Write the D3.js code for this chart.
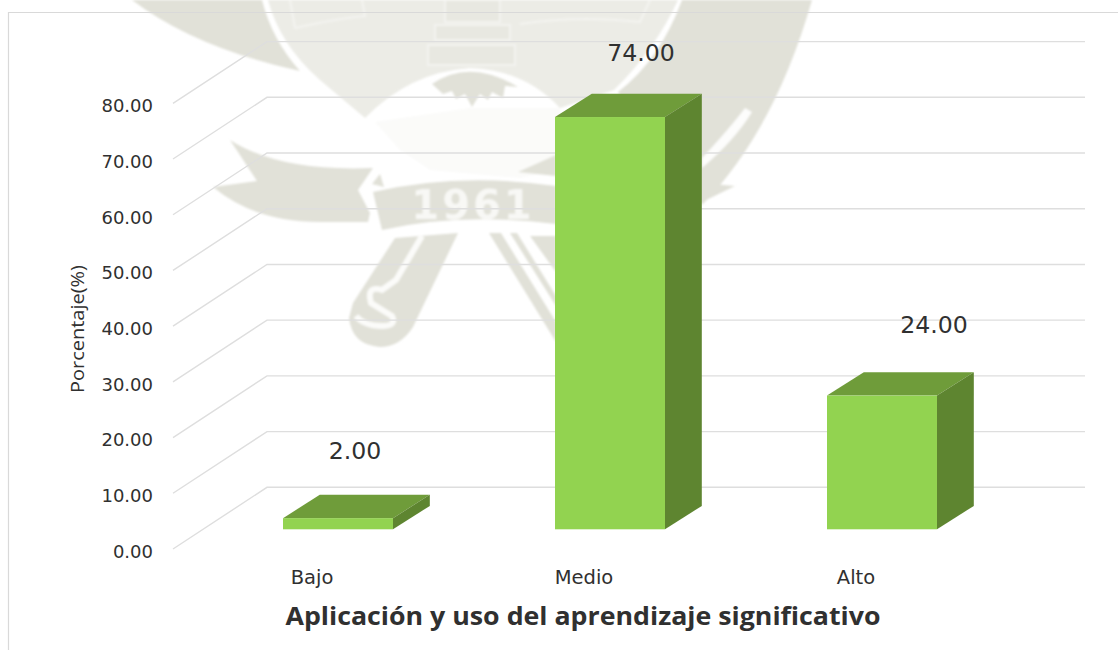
<!DOCTYPE html>
<html>
<head>
<meta charset="utf-8">
<script src="https://d3js.org/d3.v7.min.js"></script>
<style>
  html, body { margin: 0; padding: 0; background: #fff; }
  text { fill: #303030; }
  .tick text { font-family: "DejaVu Sans", sans-serif; }
</style>
</head>
<body>
<div id="chart"></div>
<script>
var categories = ["Bajo", "Medio", "Alto"];
var porcentajes = [2, 74, 24];
var yTicks = [0, 10, 20, 30, 40, 50, 60, 70, 80];
var yLabel = "Porcentaje(%)";
var xLabel = "Aplicación y uso del aprendizaje significativo";

var width = 1118, height = 650;

// depth of the 3d walls and of the bars
var wall = {dx: 94, dy: -61.7};
var depth = {dx: 36.8, dy: -23.4, base: -19.7};

var y = d3.scaleLinear().domain([0, 80]).range([549, 103.3]);
var x = d3.scaleBand().domain(categories).range([283, 937]).paddingInner(0.5956).paddingOuter(0);

var svg = d3.select("#chart").append("svg")
  .attr("width", width)
  .attr("height", height)
  .style("display", "block");

// the crest in the reference is a soft scan
svg.append("defs").append("filter")
  .attr("id", "soft")
  .append("feGaussianBlur")
  .attr("stdDeviation", 0.8);

drawWatermark(svg.append("g").attr("class", "watermark").attr("filter", "url(#soft)"));

// frame
svg.append("path")
  .attr("d", "M8.5,650V12.5H1118")
  .attr("fill", "none")
  .attr("stroke", "#d9d9d9")
  .attr("stroke-width", 1.2);

// gridlines: floor diagonal + back wall line
svg.append("g").attr("class", "grid")
  .selectAll("path")
  .data(yTicks)
  .enter().append("path")
  .attr("d", function(d) {
    return "M173," + y(d) + "L" + (173 + wall.dx) + "," + (y(d) + wall.dy) + "H1085";
  })
  .attr("fill", "none")
  .attr("stroke", "#dedede")
  .attr("stroke-width", 1.4);

var yAxis = d3.axisLeft(y)
  .tickValues(yTicks)
  .tickSize(0)
  .tickPadding(20)
  .tickFormat(d3.format(".2f"));

var gy = svg.append("g").attr("transform", "translate(173,0)").call(yAxis);
gy.select(".domain").remove();
gy.selectAll("text").attr("dy", "0.46em").style("font-size", "18px");

var bars = svg.selectAll(".bar")
  .data(categories)
  .enter().append("g")
  .attr("class", "bar");

function frontTop(i) { return y(porcentajes[i]) + depth.base; }

// top
bars.append("path")
  .attr("fill", "#6f9c3a")
  .attr("d", function(d, i) {
    var x0 = x(d), x1 = x0 + x.bandwidth(), t = frontTop(i);
    return "M" + x0 + "," + t + "L" + (x0 + depth.dx) + "," + (t + depth.dy) +
      "H" + (x1 + depth.dx) + "L" + x1 + "," + t + "Z";
  });

// side
bars.append("path")
  .attr("fill", "#5e8530")
  .attr("d", function(d, i) {
    var x1 = x(d) + x.bandwidth(), t = frontTop(i), b = y(0) + depth.base;
    return "M" + x1 + "," + t + "L" + (x1 + depth.dx) + "," + (t + depth.dy) +
      "V" + (b + depth.dy) + "L" + x1 + "," + b + "Z";
  });

// front
bars.append("rect")
  .attr("fill", "#92d350")
  .attr("x", function(d) { return x(d); })
  .attr("y", function(d, i) { return frontTop(i); })
  .attr("width", x.bandwidth())
  .attr("height", function(d, i) { return y(0) + depth.base - frontTop(i); });

// value labels
var labelShift = [17, 31, 52];
var labelRise = [67, 64.5, 71];
bars.append("text")
  .attr("x", function(d, i) { return x(d) + x.bandwidth() / 2 + labelShift[i]; })
  .attr("y", function(d, i) { return frontTop(i) - labelRise[i] + 8; })
  .attr("text-anchor", "middle")
  .style("font-family", "'DejaVu Sans', sans-serif")
  .style("font-size", "23.6px")
  .text(function(d, i) { return d3.format(".2f")(porcentajes[i]); });

var xAxis = d3.axisBottom(x).tickSize(0).tickPadding(0);
var gx = svg.append("g").attr("transform", "translate(-26,570)").call(xAxis);
gx.select(".domain").remove();
gx.selectAll("text").style("font-size", "19.5px");

svg.append("text")
  .attr("x", 583)
  .attr("y", 625)
  .attr("text-anchor", "middle")
  .attr("textLength", 595)
  .attr("lengthAdjust", "spacingAndGlyphs")
  .style("font-family", "'Open Sans', sans-serif")
  .style("font-weight", "700")
  .style("font-size", "24.5px")
  .text(xLabel);

svg.append("text")
  .attr("transform", "translate(84,329) rotate(-90)")
  .attr("text-anchor", "middle")
  .attr("textLength", 128)
  .attr("lengthAdjust", "spacingAndGlyphs")
  .style("font-family", "'Open Sans', sans-serif")
  .style("font-size", "18px")
  .text(yLabel);

// pale crest behind the chart
function drawWatermark(g) {
  var dark = "#e1e1d8", mid = "#ecece6", pale = "#fbfbf9";

  // faint wings under the dome
  g.append("path").attr("fill", pale)
    .attr("d", "M375,122L470,108L560,108V170L520,178L430,170L400,150Z");

  // outer crescents
  g.append("path").attr("fill", dark)
    .attr("d", "M132,0Q195,48 300,71Q272,40 262,0Z");
  g.append("path").attr("fill", dark)
    .attr("d", "M682,0Q660,60 618,92L701,200L702,205Q775,130 812,0Z");
  g.append("path").attr("fill", "#fdfdfc")
    .attr("d", "M745,108L752,112Q735,140 702,168L702,158Q730,128 745,108Z");
  g.append("path").attr("fill", dark)
    .attr("d", "M700,183L735,186L700,203Z");

  // inner shield, dome cut out of its lower edge
  g.append("path").attr("fill", mid)
    .attr("d", "M268,0Q280,45 320,80L365,118Q410,72 470,68Q525,70 560,108L614,90Q655,50 678,0Z");

  // castle
  g.append("path").attr("fill", "#e8e8e1").attr("stroke", "#f6f6f3").attr("stroke-width", 1.5)
    .attr("d", "M428,45H515V65H428ZM435,25H510V40H435ZM445,0H500V22H445Z");

  // white lines of the upper shield
  g.append("path").attr("fill", "none").attr("stroke", "#f4f4f0").attr("stroke-width", 2)
    .attr("d", "M295,28Q340,18 365,16L362,0M295,28L290,0M520,24Q580,15 640,22L650,0");

  // shrub under the castle
  g.append("path").attr("fill", dark)
    .attr("d", "M432,84Q470,58 518,87L505,86L503,98L492,92L488,100L480,94L472,107L465,94L456,99L452,91L443,94Z");

  // ribbon tail
  g.append("path").attr("fill", dark)
    .attr("d", "M230,140Q280,172 373,168L358,190L370,213L368,222H320Q255,222 213,187L257,181Z");
  // ribbon centre
  g.append("path").attr("fill", dark)
    .attr("d", "M373,192Q460,172 556,186V224Q460,212 382,230Z");
  g.append("path").attr("fill", dark)
    .attr("d", "M518,172L556,155V176Z");
  g.append("path").attr("fill", dark)
    .attr("d", "M380,174L384,187L372,184Z");

  g.append("text")
    .attr("x", 473)
    .attr("y", 219)
    .attr("text-anchor", "middle")
    .style("font-family", "'DejaVu Sans', sans-serif")
    .style("font-weight", "700")
    .style("font-size", "40px")
    .style("letter-spacing", "3px")
    .style("fill", "#f8f8f5")
    .text("1961");

  // left sword with S
  g.append("path").attr("fill", dark)
    .attr("d", "M395,238L458,233L413,327Q400,347 380,347Q352,345 349,318L353,303Z");
  g.append("path").attr("fill", "none").attr("stroke", "#fbfbf9").attr("stroke-width", 6)
    .attr("d", "M422,236L396,280L382,290Q366,285 371,303L392,316Q397,326 382,326Q364,326 356,316");

  // right sword stripes
  g.append("path").attr("fill", dark)
    .attr("d", "M489,233H501L556,322V342Z");
  g.append("path").attr("fill", dark)
    .attr("d", "M510,233H517L556,296V306Z");
  g.append("path").attr("fill", dark)
    .attr("d", "M530,236H556V272Z");
}
</script>
</body>
</html>
